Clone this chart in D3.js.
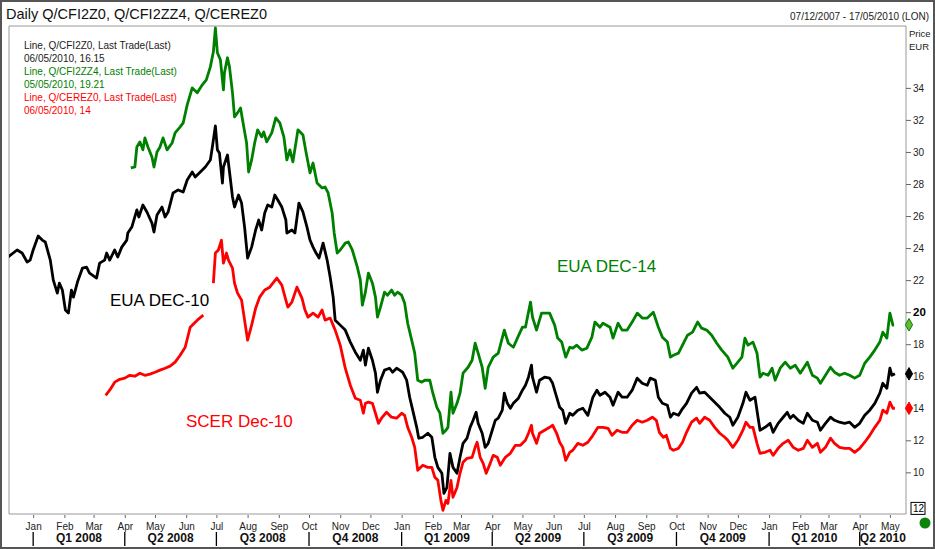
<!DOCTYPE html>
<html>
<head>
<meta charset="utf-8">
<script src="https://cdn.jsdelivr.net/npm/d3@7"></script>
<style>
body { margin: 0; background: #fff; }
svg text { font-family: "Liberation Sans", Arial, sans-serif; }
</style>
</head>
<body>
<div id="chart"></div>
<script>
// daily closes, [date, EUR]
const eua10 = [
["2007-12-07",23.44],["2007-12-16",23.88],["2007-12-21",23.69],["2007-12-26",23.13],["2007-12-29",23.25],["2008-01-01",23.88],["2008-01-06",24.75],["2008-01-10",24.5],["2008-01-13",24.38],["2008-01-18",23.25],["2008-01-21",22.0],["2008-01-25",21.19],["2008-01-27",21.81],["2008-01-30",21.38],["2008-02-02",20.13],["2008-02-05",19.94],["2008-02-08",21.38],["2008-02-10",20.94],["2008-02-14",21.88],["2008-02-19",22.75],["2008-02-23",22.81],["2008-02-26",22.44],["2008-03-04",22.13],["2008-03-07",23.06],["2008-03-12",23.25],["2008-03-14",23.69],["2008-03-17",23.25],["2008-03-22",23.88],["2008-03-25",23.44],["2008-03-29",24.06],["2008-04-03",24.5],["2008-04-04",24.94],["2008-04-08",25.31],["2008-04-13",26.38],["2008-04-15",25.94],["2008-04-19",26.69],["2008-04-23",26.25],["2008-04-28",25.56],["2008-04-30",25.0],["2008-05-03",26.06],["2008-05-08",26.56],["2008-05-11",25.94],["2008-05-14",26.25],["2008-05-19",27.44],["2008-05-24",27.63],["2008-05-29",27.5],["2008-06-02",28.25],["2008-06-07",28.75],["2008-06-10",28.44],["2008-06-15",28.75],["2008-06-20",29.06],["2008-06-25",29.5],["2008-06-27",30.31],["2008-06-30",31.63],["2008-07-02",30.13],["2008-07-04",29.94],["2008-07-07",28.06],["2008-07-08",29.06],["2008-07-12",29.81],["2008-07-15",28.25],["2008-07-17",27.19],["2008-07-19",26.56],["2008-07-23",27.31],["2008-07-26",26.81],["2008-07-29",25.31],["2008-08-01",23.38],["2008-08-05",24.06],["2008-08-09",25.13],["2008-08-12",25.75],["2008-08-15",25.13],["2008-08-18",26.19],["2008-08-21",26.69],["2008-08-25",26.56],["2008-08-28",27.31],["2008-08-31",27.0],["2008-09-04",26.56],["2008-09-08",25.75],["2008-09-09",24.94],["2008-09-14",25.13],["2008-09-17",24.94],["2008-09-21",26.81],["2008-09-25",26.25],["2008-09-29",25.31],["2008-10-02",24.5],["2008-10-05",24.06],["2008-10-08",23.69],["2008-10-11",23.38],["2008-10-15",24.31],["2008-10-19",23.25],["2008-10-22",22.19],["2008-10-25",20.94],["2008-10-27",19.5],["2008-11-01",19.19],["2008-11-06",18.88],["2008-11-11",18.13],["2008-11-16",17.5],["2008-11-21",17.0],["2008-11-24",17.63],["2008-11-26",16.69],["2008-11-29",17.75],["2008-12-03",17.0],["2008-12-06",16.19],["2008-12-08",15.0],["2008-12-11",15.75],["2008-12-15",16.38],["2008-12-20",16.5],["2008-12-23",16.25],["2008-12-27",16.5],["2008-12-30",16.38],["2009-01-02",16.25],["2009-01-06",15.75],["2009-01-09",14.69],["2009-01-12",13.88],["2009-01-16",12.81],["2009-01-18",12.13],["2009-01-22",12.19],["2009-01-27",12.44],["2009-01-31",12.19],["2009-02-03",10.94],["2009-02-06",10.31],["2009-02-10",9.94],["2009-02-12",8.69],["2009-02-15",9.06],["2009-02-18",11.19],["2009-02-21",10.31],["2009-02-25",9.94],["2009-02-28",10.94],["2009-03-03",11.81],["2009-03-07",12.13],["2009-03-10",12.81],["2009-03-13",13.25],["2009-03-16",13.75],["2009-03-18",13.06],["2009-03-22",12.44],["2009-03-25",11.56],["2009-03-28",11.81],["2009-04-01",12.63],["2009-04-04",13.25],["2009-04-07",13.38],["2009-04-11",13.88],["2009-04-13",14.94],["2009-04-16",14.31],["2009-04-19",14.0],["2009-04-22",14.31],["2009-04-27",14.63],["2009-05-01",15.13],["2009-05-04",15.44],["2009-05-07",15.94],["2009-05-10",16.69],["2009-05-11",15.94],["2009-05-15",15.0],["2009-05-18",15.75],["2009-05-23",15.94],["2009-05-28",15.88],["2009-05-31",15.56],["2009-06-04",14.69],["2009-06-07",14.06],["2009-06-10",13.88],["2009-06-13",13.06],["2009-06-17",13.69],["2009-06-20",13.56],["2009-06-25",13.88],["2009-06-30",14.0],["2009-07-05",13.56],["2009-07-10",14.69],["2009-07-14",15.13],["2009-07-17",14.81],["2009-07-22",15.0],["2009-07-27",14.69],["2009-07-30",14.19],["2009-08-04",15.0],["2009-08-08",14.69],["2009-08-13",14.69],["2009-08-18",15.13],["2009-08-23",15.88],["2009-08-28",15.56],["2009-09-02",15.44],["2009-09-05",15.88],["2009-09-10",15.75],["2009-09-13",14.69],["2009-09-17",14.31],["2009-09-22",14.19],["2009-09-25",13.44],["2009-09-28",13.69],["2009-10-03",13.56],["2009-10-06",13.88],["2009-10-11",14.31],["2009-10-16",14.94],["2009-10-21",15.31],["2009-10-24",14.94],["2009-10-29",15.0],["2009-11-03",14.69],["2009-11-08",14.38],["2009-11-13",14.06],["2009-11-18",13.69],["2009-11-23",13.44],["2009-11-26",12.94],["2009-12-01",13.44],["2009-12-06",14.31],["2009-12-09",15.0],["2009-12-13",14.5],["2009-12-18",14.69],["2009-12-21",13.44],["2009-12-23",12.63],["2009-12-28",12.81],["2010-01-02",13.06],["2010-01-05",12.5],["2010-01-10",13.06],["2010-01-15",13.44],["2010-01-19",13.75],["2010-01-22",13.38],["2010-01-25",13.56],["2010-01-30",13.25],["2010-02-04",13.06],["2010-02-08",13.69],["2010-02-13",13.25],["2010-02-18",13.13],["2010-02-21",12.63],["2010-02-26",13.06],["2010-03-03",13.44],["2010-03-07",13.25],["2010-03-12",13.13],["2010-03-17",13.06],["2010-03-22",13.13],["2010-03-27",12.81],["2010-04-01",13.06],["2010-04-06",13.56],["2010-04-11",13.88],["2010-04-16",14.31],["2010-04-21",14.94],["2010-04-24",15.56],["2010-04-28",15.25],["2010-05-01",16.5],["2010-05-03",16.06],["2010-05-06",16.15]
];

const eua14 = [
["2008-04-07",29.0],["2008-04-11",29.06],["2008-04-13",30.31],["2008-04-16",30.63],["2008-04-19",30.13],["2008-04-21",30.88],["2008-04-24",30.31],["2008-04-28",29.69],["2008-04-30",29.06],["2008-05-03",30.0],["2008-05-06",30.31],["2008-05-09",30.88],["2008-05-13",30.13],["2008-05-18",30.56],["2008-05-21",31.19],["2008-05-26",31.56],["2008-05-29",31.81],["2008-06-02",32.94],["2008-06-07",34.0],["2008-06-12",33.69],["2008-06-17",34.19],["2008-06-21",34.5],["2008-06-25",35.31],["2008-06-28",36.25],["2008-06-30",37.75],["2008-07-02",36.19],["2008-07-05",35.75],["2008-07-08",33.88],["2008-07-09",34.94],["2008-07-12",35.88],["2008-07-14",35.31],["2008-07-17",33.69],["2008-07-19",32.19],["2008-07-22",32.44],["2008-07-25",32.75],["2008-07-27",32.0],["2008-07-31",30.56],["2008-08-02",28.75],["2008-08-05",29.5],["2008-08-08",30.56],["2008-08-11",31.38],["2008-08-15",30.94],["2008-08-17",31.25],["2008-08-20",30.63],["2008-08-25",31.19],["2008-08-29",32.13],["2008-09-02",31.81],["2008-09-06",30.94],["2008-09-09",29.5],["2008-09-12",30.13],["2008-09-15",29.38],["2008-09-20",31.38],["2008-09-25",31.06],["2008-09-28",30.0],["2008-10-02",28.69],["2008-10-05",29.31],["2008-10-09",28.06],["2008-10-14",27.75],["2008-10-17",27.81],["2008-10-20",27.44],["2008-10-24",26.19],["2008-10-26",24.94],["2008-10-29",23.69],["2008-11-01",23.88],["2008-11-06",24.31],["2008-11-09",24.38],["2008-11-13",23.88],["2008-11-18",22.81],["2008-11-21",22.0],["2008-11-23",20.44],["2008-11-26",21.25],["2008-11-29",22.44],["2008-12-03",21.81],["2008-12-06",20.94],["2008-12-08",19.69],["2008-12-11",20.31],["2008-12-15",21.25],["2008-12-18",21.06],["2008-12-22",21.38],["2008-12-25",21.06],["2008-12-28",21.25],["2009-01-01",21.06],["2009-01-04",20.56],["2009-01-07",19.31],["2009-01-11",18.25],["2009-01-14",17.44],["2009-01-17",15.75],["2009-01-21",15.63],["2009-01-24",15.75],["2009-01-29",15.75],["2009-02-01",14.94],["2009-02-05",14.06],["2009-02-08",13.69],["2009-02-11",12.44],["2009-02-14",12.63],["2009-02-16",12.81],["2009-02-19",15.0],["2009-02-21",13.69],["2009-02-25",14.31],["2009-02-28",14.94],["2009-03-03",16.19],["2009-03-08",16.56],["2009-03-12",17.0],["2009-03-15",18.06],["2009-03-18",17.44],["2009-03-22",16.56],["2009-03-25",15.25],["2009-03-28",16.56],["2009-04-02",17.19],["2009-04-07",17.44],["2009-04-13",18.88],["2009-04-17",18.06],["2009-04-22",17.81],["2009-04-26",18.38],["2009-05-01",19.06],["2009-05-04",19.06],["2009-05-09",20.63],["2009-05-11",19.69],["2009-05-15",18.88],["2009-05-20",19.94],["2009-05-25",19.94],["2009-05-28",19.94],["2009-06-02",19.19],["2009-06-05",18.38],["2009-06-09",18.13],["2009-06-13",17.19],["2009-06-17",17.81],["2009-06-20",17.75],["2009-06-24",17.94],["2009-06-29",17.63],["2009-07-04",17.75],["2009-07-09",18.44],["2009-07-12",19.38],["2009-07-17",19.06],["2009-07-20",19.31],["2009-07-27",19.06],["2009-07-30",18.38],["2009-08-04",19.31],["2009-08-08",18.88],["2009-08-13",18.88],["2009-08-18",19.38],["2009-08-23",19.94],["2009-08-28",19.63],["2009-09-02",19.63],["2009-09-08",20.0],["2009-09-13",19.06],["2009-09-17",18.44],["2009-09-22",18.13],["2009-09-25",17.19],["2009-09-28",17.31],["2009-10-03",17.44],["2009-10-07",17.94],["2009-10-12",18.56],["2009-10-17",18.75],["2009-10-22",19.38],["2009-10-26",19.0],["2009-10-31",18.88],["2009-11-05",18.56],["2009-11-10",18.06],["2009-11-15",17.63],["2009-11-21",17.19],["2009-11-26",16.5],["2009-12-01",16.88],["2009-12-05",17.19],["2009-12-08",18.38],["2009-12-11",17.94],["2009-12-16",18.13],["2009-12-20",17.44],["2009-12-23",15.94],["2009-12-26",16.19],["2009-12-31",16.06],["2010-01-04",16.5],["2010-01-07",15.75],["2010-01-12",16.5],["2010-01-17",16.88],["2010-01-22",16.5],["2010-01-27",16.69],["2010-02-01",16.19],["2010-02-08",16.88],["2010-02-13",16.06],["2010-02-18",15.88],["2010-02-21",15.56],["2010-02-26",16.06],["2010-03-03",16.56],["2010-03-07",16.25],["2010-03-12",16.06],["2010-03-17",16.19],["2010-03-22",16.06],["2010-03-27",15.88],["2010-04-01",16.06],["2010-04-06",16.81],["2010-04-11",17.19],["2010-04-16",17.63],["2010-04-21",18.13],["2010-04-24",18.75],["2010-04-28",18.38],["2010-05-01",19.94],["2010-05-04",19.19],["2010-05-05",19.21]
];

// null = no trades (gap in the line)
const scer10 = [
["2008-03-13",14.81],["2008-03-17",15.13],["2008-03-22",15.63],["2008-03-27",15.81],["2008-04-01",15.88],["2008-04-06",16.06],["2008-04-11",16.0],["2008-04-16",16.19],["2008-04-21",16.06],["2008-04-26",16.13],["2008-05-01",16.25],["2008-05-06",16.38],["2008-05-11",16.5],["2008-05-16",16.63],["2008-05-21",16.88],["2008-05-26",17.31],["2008-05-31",17.81],["2008-06-03",18.56],["2008-06-05",19.06],["2008-06-12",19.5],["2008-06-18",19.81],["2008-06-23",null],
["2008-06-28",21.81],["2008-06-30",23.69],["2008-07-03",23.88],["2008-07-06",24.5],["2008-07-08",23.06],["2008-07-11",23.69],["2008-07-13",23.25],["2008-07-17",22.75],["2008-07-19",21.81],["2008-07-22",21.19],["2008-07-26",20.75],["2008-07-29",19.5],["2008-08-01",18.25],["2008-08-05",19.19],["2008-08-09",20.25],["2008-08-13",20.94],["2008-08-18",21.38],["2008-08-23",21.56],["2008-08-30",22.13],["2008-09-04",21.69],["2008-09-08",20.75],["2008-09-10",20.31],["2008-09-14",20.63],["2008-09-19",21.56],["2008-09-24",20.88],["2008-09-27",20.13],["2008-09-30",19.69],["2008-10-05",19.94],["2008-10-10",19.69],["2008-10-14",20.13],["2008-10-17",19.5],["2008-10-22",19.63],["2008-10-27",18.88],["2008-11-01",17.94],["2008-11-06",16.5],["2008-11-11",15.44],["2008-11-16",14.63],["2008-11-21",14.5],["2008-11-24",13.69],["2008-11-26",14.31],["2008-11-29",14.38],["2008-12-03",14.31],["2008-12-06",13.69],["2008-12-09",13.06],["2008-12-12",13.38],["2008-12-17",13.75],["2008-12-22",13.44],["2008-12-27",13.38],["2009-01-01",13.69],["2009-01-04",13.56],["2009-01-07",12.81],["2009-01-11",12.19],["2009-01-14",11.56],["2009-01-17",10.13],["2009-01-22",10.44],["2009-01-27",10.31],["2009-01-31",10.31],["2009-02-03",9.69],["2009-02-06",9.5],["2009-02-09",8.25],["2009-02-11",7.63],["2009-02-14",8.25],["2009-02-16",8.06],["2009-02-19",9.5],["2009-02-21",8.44],["2009-02-25",9.06],["2009-02-28",9.94],["2009-03-03",10.63],["2009-03-07",10.88],["2009-03-12",10.94],["2009-03-15",11.56],["2009-03-17",11.88],["2009-03-20",10.94],["2009-03-23",10.56],["2009-03-26",9.94],["2009-03-30",10.56],["2009-04-02",11.06],["2009-04-06",10.94],["2009-04-09",10.44],["2009-04-14",10.94],["2009-04-19",11.19],["2009-04-24",11.69],["2009-04-29",11.69],["2009-05-04",12.0],["2009-05-07",12.44],["2009-05-10",12.94],["2009-05-11",12.44],["2009-05-15",11.81],["2009-05-18",12.44],["2009-05-23",12.63],["2009-05-28",12.81],["2009-05-31",12.94],["2009-06-04",12.44],["2009-06-07",11.88],["2009-06-10",11.56],["2009-06-13",10.75],["2009-06-17",11.25],["2009-06-20",11.38],["2009-06-25",11.81],["2009-06-30",11.69],["2009-07-05",11.88],["2009-07-10",12.31],["2009-07-15",12.81],["2009-07-20",12.81],["2009-07-25",12.75],["2009-07-29",12.31],["2009-08-03",12.63],["2009-08-08",12.5],["2009-08-13",12.5],["2009-08-18",12.94],["2009-08-23",13.25],["2009-08-28",13.13],["2009-09-02",13.25],["2009-09-07",13.44],["2009-09-11",13.25],["2009-09-14",12.5],["2009-09-18",12.19],["2009-09-21",12.31],["2009-09-25",11.5],["2009-09-28",11.38],["2009-10-03",11.5],["2009-10-07",11.88],["2009-10-11",12.5],["2009-10-16",13.13],["2009-10-21",13.38],["2009-10-24",13.06],["2009-10-29",13.44],["2009-11-03",13.25],["2009-11-08",12.81],["2009-11-13",12.44],["2009-11-18",12.19],["2009-11-21",12.0],["2009-11-26",11.56],["2009-12-01",12.0],["2009-12-06",12.63],["2009-12-09",13.13],["2009-12-13",12.81],["2009-12-16",12.81],["2009-12-20",11.81],["2009-12-23",11.19],["2009-12-28",11.25],["2010-01-02",11.38],["2010-01-05",11.06],["2010-01-10",11.5],["2010-01-15",11.81],["2010-01-20",12.0],["2010-01-25",11.56],["2010-01-30",11.38],["2010-02-04",11.5],["2010-02-08",12.0],["2010-02-13",11.56],["2010-02-18",11.81],["2010-02-21",11.25],["2010-02-26",11.56],["2010-03-03",12.13],["2010-03-07",11.81],["2010-03-12",11.56],["2010-03-17",11.5],["2010-03-22",11.5],["2010-03-27",11.25],["2010-04-01",11.5],["2010-04-06",11.88],["2010-04-11",12.31],["2010-04-16",12.81],["2010-04-21",13.25],["2010-04-24",13.88],["2010-04-28",13.69],["2010-05-01",14.38],["2010-05-04",14.0],["2010-05-06",14.0]
];

const priceTicks = [10, 12, 14, 16, 18, 20, 22, 24, 26, 28, 30, 32, 34];
const legendLines = [
	"Line, Q/CFI2Z0, Last Trade(Last)", "06/05/2010, 16.15",
	"Line, Q/CFI2ZZ4, Last Trade(Last)", "05/05/2010, 19.21",
	"Line, Q/CEREZ0, Last Trade(Last)", "06/05/2010, 14"
];
const seriesNames = ["EUA DEC-10", "EUA DEC-14", "SCER Dec-10"];
const dateRange = ["2007-12-07", "2010-05-17"];

const width = 935, height = 549,
	plot = {left: 9, right: 906, top: 26, bottom: 514},
	colors = ["#000000", "#008000", "#ff0000"];

const parse = d3.timeParse("%Y-%m-%d");

const svg = d3.select('#chart')
	.append('svg')
	.attr('width', width)
	.attr('height', height);

// frame
svg.append('rect')
	.attr('x', 1).attr('y', 1)
	.attr('width', width - 2).attr('height', height - 2)
	.attr('fill', '#fff')
	.attr('stroke', '#555')
	.attr('stroke-width', 2);

svg.append('text')
	.attr('x', 6).attr('y', 19)
	.attr('font-size', 14.5)
	.attr('fill', '#111')
	.text('Daily Q/CFI2Z0, Q/CFI2ZZ4, Q/CEREZ0');

svg.append('text')
	.attr('x', 929).attr('y', 20)
	.attr('text-anchor', 'end')
	.attr('font-size', 10)
	.attr('fill', '#222')
	.text('07/12/2007 - 17/05/2010 (LON)');

// scales
const x = d3.scaleTime()
	.domain(dateRange.map(parse))
	.range([plot.left - 1, plot.right]);

const y = d3.scaleLinear()
	.domain([7.4, 37.8])
	.range([plot.bottom, plot.top + 1]);

// plot box
svg.append('path')
	.attr('d', `M${plot.left},${plot.bottom}V${plot.top}H${plot.right}V${plot.bottom}Z`)
	.attr('fill', 'none')
	.attr('stroke', '#999');

svg.append('clipPath').attr('id', 'clip')
	.append('rect')
	.attr('x', plot.left).attr('y', plot.top)
	.attr('width', plot.right - plot.left).attr('height', plot.bottom - plot.top);

const line = d3.line()
	.defined(d => d[1] != null)
	.x(d => x(parse(d[0])))
	.y(d => y(d[1]));

const allSeries = [eua10, eua14, scer10];

svg.append('g')
	.attr('clip-path', 'url(#clip)')
	.selectAll('path')
	.data(allSeries)
	.enter()
	.append('path')
		.attr('d', line)
		.attr('fill', 'none')
		.attr('stroke', (d, i) => colors[i])
		.attr('stroke-width', 2.8)
		.attr('stroke-linejoin', 'round');

// right price axis
const yAxis = d3.axisRight(y).tickValues(priceTicks).tickSize(5).tickPadding(2);
const ya = svg.append('g')
	.attr('transform', `translate(${plot.right},0)`)
	.call(yAxis);
ya.select('.domain').remove();
ya.selectAll('line').attr('stroke', '#666');
ya.selectAll('text')
	.attr('font-family', '"Liberation Sans", Arial, sans-serif')
	.attr('font-size', 10)
	.attr('fill', '#222')
	.filter(d => d == 20)
		.attr('font-weight', 'bold')
		.attr('font-size', 11.5)
		.attr('fill', '#000');

svg.append('text').attr('x', 909).attr('y', 37).attr('font-size', 9.5).attr('fill', '#222').text('Price');
svg.append('text').attr('x', 909).attr('y', 50).attr('font-size', 9.5).attr('fill', '#222').text('EUR');

// boxed bottom label
svg.append('rect')
	.attr('x', 911).attr('y', y(7.75) - 6)
	.attr('width', 14).attr('height', 12)
	.attr('fill', '#fff').attr('stroke', '#000');
svg.append('text')
	.attr('x', 913).attr('y', y(7.75) + 4)
	.attr('font-size', 10).attr('fill', '#000')
	.text('12');

// last value markers
const lastPoints = allSeries.map(s => s[s.length - 1]);
svg.selectAll('.last')
	.data(lastPoints)
	.enter()
	.append('path')
		.attr('class', 'last')
		.attr('d', d3.symbol(d3.symbolDiamond).size(45))
		.attr('transform', d => `translate(${plot.right + 3},${y(d[1])})`)
		.attr('fill', (d, i) => i == 1 ? '#66bb33' : colors[i])
		.attr('stroke', (d, i) => colors[i])
		.attr('stroke-width', 1);

// month axis
const months = d3.timeMonth.range(d3.timeMonth.ceil(x.domain()[0]), x.domain()[1]);
const xAxis = d3.axisBottom(x).tickValues(months)
	.tickFormat(d3.timeFormat('%b')).tickSize(3).tickPadding(5);
const xa = svg.append('g')
	.attr('transform', `translate(0,${plot.bottom + 1})`)
	.call(xAxis);
xa.select('.domain').remove();
xa.selectAll('line').attr('stroke', '#666');
xa.selectAll('text')
	.attr('font-family', '"Liberation Sans", Arial, sans-serif')
	.attr('font-size', 10)
	.attr('fill', '#222');

// quarter row
const quarters = d3.timeMonth.every(3).range(d3.timeMonth.ceil(x.domain()[0]), x.domain()[1]);
svg.selectAll('.qsep')
	.data(quarters)
	.enter()
	.append('line')
		.attr('x1', d => x(d)).attr('x2', d => x(d))
		.attr('y1', 532).attr('y2', 546)
		.attr('stroke', '#000')
		.attr('stroke-width', 1.3);

svg.selectAll('.qlab')
	.data(quarters)
	.enter()
	.append('text')
		.attr('x', d => {
			let end = Math.min(x(d3.timeMonth.offset(d, 3)), plot.right);
			return (x(d) + end) / 2;
		})
		.attr('y', 542)
		.attr('text-anchor', 'middle')
		.attr('font-size', 12)
		.attr('font-weight', 'bold')
		.attr('fill', '#111')
		.text(d => 'Q' + (Math.floor(d.getMonth() / 3) + 1) + ' ' + d.getFullYear());

svg.append('circle')
	.attr('cx', 925).attr('cy', 523).attr('r', 5.5)
	.attr('fill', '#0a850a');

// legend block
svg.selectAll('.legend')
	.data(legendLines)
	.enter()
	.append('text')
		.attr('x', 24)
		.attr('y', (d, i) => 49 + i * 13)
		.attr('font-size', 10)
		.attr('fill', (d, i) => i < 2 ? '#222' : colors[Math.floor(i / 2)])
		.text(d => d);

// series labels
const labelPos = [[110, 306], [557, 272], [186, 427]];
svg.selectAll('.slab')
	.data(seriesNames)
	.enter()
	.append('text')
		.attr('x', (d, i) => labelPos[i][0])
		.attr('y', (d, i) => labelPos[i][1])
		.attr('font-size', 17)
		.attr('fill', (d, i) => colors[i])
		.text(d => d);
</script>
</body>
</html>
